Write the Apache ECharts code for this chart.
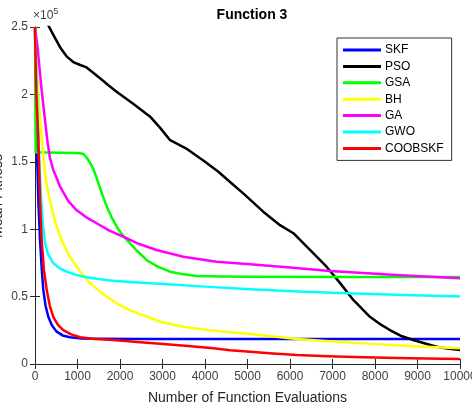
<!DOCTYPE html>
<html>
<head>
<meta charset="utf-8">
<script src="https://cdn.jsdelivr.net/npm/echarts@6/dist/echarts.min.js"></script>
<style>
  html, body { margin: 0; padding: 0; background: #fff; }
  #chart { width: 472px; height: 407px; }
</style>
</head>
<body>
<div id="chart"></div>
<script>
// values are in units of 1e5 (axis shows "x10^5")
const seriesNames = ['SKF', 'PSO', 'GSA', 'BH', 'GA', 'GWO', 'COOBSKF'];
const seriesColors = ['#0000ff', '#000000', '#00ff00', '#ffff00', '#ff00ff', '#00ffff', '#ff0000'];

const skf = [[0, 2.5], [20, 2.1], [40, 1.66], [80, 1.2], [118, 0.92], [160, 0.7], [195, 0.55], [250, 0.43],
  [313, 0.35], [400, 0.285], [510, 0.24], [650, 0.212], [820, 0.198], [1100, 0.19], [1450, 0.188],
  [2500, 0.186], [5000, 0.185], [7500, 0.185], [10000, 0.185]];
const pso = [[300, 2.52], [450, 2.43], [590, 2.35], [750, 2.28], [900, 2.24], [1050, 2.22], [1215, 2.2],
  [1530, 2.12], [1720, 2.07], [1920, 2.02], [2310, 1.93], [2710, 1.835], [2950, 1.75], [3180, 1.66],
  [3550, 1.6], [3960, 1.51], [4300, 1.43], [4590, 1.35], [4900, 1.266], [5370, 1.13], [5765, 1.03],
  [6080, 0.97], [6470, 0.846], [6860, 0.722], [7180, 0.6], [7490, 0.475], [7880, 0.35], [8100, 0.3],
  [8350, 0.252], [8600, 0.21], [8900, 0.178], [9200, 0.15], [9450, 0.128], [9700, 0.115], [10000, 0.104]];
const gsa = [[0, 2.5], [15, 1.57], [600, 1.567], [1000, 1.566], [1130, 1.56], [1220, 1.53], [1300, 1.49],
  [1380, 1.44], [1450, 1.38], [1570, 1.27], [1690, 1.167], [1800, 1.09], [1920, 1.02], [2040, 0.965],
  [2160, 0.92], [2400, 0.84], [2630, 0.77], [2900, 0.72], [3180, 0.685], [3500, 0.665], [3800, 0.653],
  [4400, 0.649], [5000, 0.648], [7500, 0.646], [10000, 0.645]];
const bh = [[0, 2.5], [60, 2.1], [120, 1.82], [180, 1.6], [235, 1.415], [290, 1.3], [350, 1.217],
  [430, 1.11], [510, 1.02], [650, 0.9], [820, 0.796], [1050, 0.69], [1290, 0.6], [1600, 0.52],
  [1920, 0.45], [2250, 0.396], [2630, 0.351], [3000, 0.31], [3490, 0.277], [4000, 0.255], [4590, 0.236],
  [5060, 0.222], [6160, 0.185], [7000, 0.167], [7730, 0.153], [8800, 0.133], [10000, 0.116]];
const ga = [[0, 2.5], [60, 2.35], [150, 2.05], [235, 1.81], [290, 1.66], [350, 1.53], [430, 1.44],
  [510, 1.38], [590, 1.315], [780, 1.21], [980, 1.14], [1200, 1.09], [1450, 1.044], [1750, 0.99],
  [2080, 0.944], [2450, 0.89], [2860, 0.846], [3490, 0.796], [4270, 0.759], [5060, 0.74], [6000, 0.715],
  [6940, 0.69], [8500, 0.66], [10000, 0.636]];
const gwo = [[0, 2.5], [100, 1.5], [150, 1.2], [190, 1.02], [235, 0.9], [300, 0.82], [430, 0.747],
  [580, 0.71], [745, 0.685], [950, 0.663], [1140, 0.648], [1500, 0.63], [1840, 0.618], [2400, 0.605],
  [3020, 0.593], [4000, 0.574], [5060, 0.554], [6200, 0.538], [7330, 0.524], [8700, 0.511], [10000, 0.5]];
const coobskf = [[0, 2.5], [30, 2.0], [80, 1.66], [120, 1.2], [157, 0.92], [210, 0.7], [275, 0.55],
  [350, 0.43], [430, 0.35], [540, 0.29], [665, 0.252], [850, 0.22], [1060, 0.198], [1400, 0.186],
  [1840, 0.178], [2400, 0.164], [3020, 0.148], [3600, 0.133], [4200, 0.116], [4590, 0.102], [5060, 0.091],
  [5600, 0.078], [6160, 0.067], [6900, 0.058], [7730, 0.05], [8800, 0.043], [10000, 0.037]];

const allData = [skf, pso, gsa, bh, ga, gwo, coobskf];

const xTicks = { min: 0, max: 10000, interval: 1000 };
const yTicks = { min: 0, max: 2.5, interval: 0.5 };

const FONT = 'Liberation Sans';
const axisColor = '#262626';

const chart = echarts.init(document.getElementById('chart'));

const option = {
  animation: false,
  textStyle: { fontFamily: FONT },
  title: {
    text: 'Function 3',
    left: 247,
    textAlign: 'center',
    top: 3,
    textStyle: { fontFamily: FONT, fontSize: 14, fontWeight: 'bold', color: '#000' }
  },
  graphic: [{
    type: 'text',
    left: 33,
    top: 7,
    style: {
      text: '{a|×10}{b|5}',
      rich: {
        a: { fontFamily: FONT, fontSize: 12, fill: '#404040' },
        b: { fontFamily: FONT, fontSize: 9, fill: '#404040', verticalAlign: 'top', padding: [0, 0, 8, 0] }
      }
    }
  }, {
    // y-axis title, partly cut off at the left edge like the original figure
    type: 'text',
    x: -2,
    y: 196,
    rotation: Math.PI / 2,
    style: {
      text: 'Mean Fitness',
      fontFamily: FONT,
      fontSize: 14,
      fill: '#262626',
      align: 'center',
      verticalAlign: 'middle'
    }
  }],
  legend: {
    data: seriesNames,
    orient: 'vertical',
    left: 337,
    top: 38,
    padding: [5, 8, 5, 6],
    itemWidth: 38,
    itemHeight: 3,
    itemGap: 2.4,
    icon: 'rect',
    borderColor: '#333',
    borderWidth: 1,
    backgroundColor: '#fff',
    textStyle: { fontFamily: FONT, fontSize: 12, color: '#000', lineHeight: 14, padding: [0, 0, 0, -1] }
  },
  grid: { left: 35, right: 12, top: 27, bottom: 43, containLabel: false, outerBoundsMode: 'none' },
  xAxis: [{
    type: 'value',
    min: xTicks.min, max: xTicks.max, interval: xTicks.interval,
    name: 'Number of Function Evaluations',
    nameLocation: 'middle',
    nameGap: 27,
    nameTextStyle: { fontFamily: FONT, fontSize: 14, color: '#262626' },
    axisLine: { show: true, lineStyle: { color: axisColor, width: 1 } },
    axisTick: { inside: true, length: 5, lineStyle: { color: axisColor } },
    axisLabel: { fontFamily: FONT, fontSize: 12, color: '#404040', margin: 7, formatter: v => String(v) },
    splitLine: { show: false }
  }, {
    type: 'value', position: 'top',
    min: xTicks.min, max: xTicks.max, interval: xTicks.interval,
    axisLine: { show: true, lineStyle: { color: axisColor, width: 1 } },
    axisTick: { inside: true, length: 5, lineStyle: { color: axisColor } },
    axisLabel: { show: false },
    splitLine: { show: false }
  }],
  yAxis: [{
    type: 'value',
    min: yTicks.min, max: yTicks.max, interval: yTicks.interval,
    axisLine: { show: true, lineStyle: { color: axisColor, width: 1 } },
    axisTick: { inside: true, length: 5, lineStyle: { color: axisColor } },
    axisLabel: { fontFamily: FONT, fontSize: 12, color: '#404040', margin: 7 },
    splitLine: { show: false }
  }, {
    type: 'value', position: 'right',
    min: yTicks.min, max: yTicks.max, interval: yTicks.interval,
    axisLine: { show: true, lineStyle: { color: axisColor, width: 1 } },
    axisTick: { inside: true, length: 5, lineStyle: { color: axisColor } },
    axisLabel: { show: false },
    splitLine: { show: false }
  }],
  series: seriesNames.map((name, i) => ({
    name: name,
    type: 'line',
    data: allData[i],
    xAxisIndex: 0,
    yAxisIndex: 0,
    showSymbol: false,
    symbol: 'none',
    smooth: false,
    color: seriesColors[i],
    lineStyle: { width: 2.5, color: seriesColors[i], join: 'round' },
    clip: true
  }))
};

chart.setOption(option);
</script>
</body>
</html>
